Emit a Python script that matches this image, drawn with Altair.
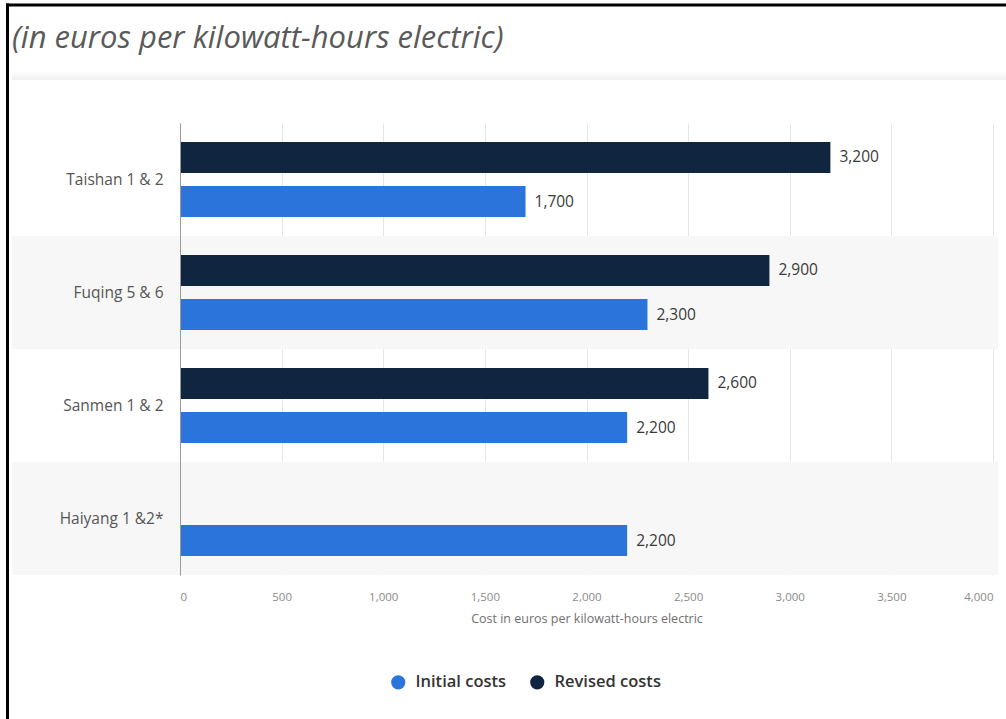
import altair as alt
import pandas as pd

plants = ["Taishan 1 & 2", "Fuqing 5 & 6", "Sanmen 1 & 2", "Haiyang 1 &2*"]
initial_costs = [1700, 2300, 2200, 2200]
revised_costs = [3200, 2900, 2600, None]
series = ["Initial costs", "Revised costs"]
colors = ["#2a74db", "#0f2540"]
x_ticks = [0, 500, 1000, 1500, 2000, 2500, 3000, 3500, 4000]
striped = ["Fuqing 5 & 6", "Haiyang 1 &2*"]
title_text = "(in euros per kilowatt-hours electric)"
x_title = "Cost in euros per kilowatt-hours electric"

rows = []
for p, i, r in zip(plants, initial_costs, revised_costs):
    rows.append({"plant": p, "series": "Initial costs", "value": i})
    if r is not None:
        rows.append({"plant": p, "series": "Revised costs", "value": r})
df = pd.DataFrame(rows)

FONT = "Open Sans"

y_scale = alt.Scale(domain=plants, paddingInner=0, paddingOuter=0)
yoff_scale = alt.Scale(domain=["Revised costs", "Initial costs"], paddingInner=0.295, paddingOuter=0.43)
x_scale = alt.Scale(domain=[0, 4000], nice=False)

y_axis = alt.Axis(labelFontSize=15.5, labelColor="#555555", labelFont=FONT,
                  labelPadding=17, ticks=False, domain=True, domainColor="#9a9a9a",
                  grid=False)
x_axis = alt.Axis(values=x_ticks, format=",d", labelFontSize=11.5, labelColor="#8a8a8a",
                  labelFont=FONT, labelPadding=16, ticks=False, domain=False,
                  grid=True, gridColor="#e6e6e6", titleFontSize=12.5,
                  titleColor="#707070", titleFont=FONT, titleFontWeight="normal",
                  titlePadding=10)

y_enc = alt.Y("plant:N", scale=y_scale, title=None, axis=y_axis)
x_enc = alt.X("value:Q", scale=x_scale, title=x_title, axis=x_axis)

stripes = alt.Chart(pd.DataFrame({"plant": striped})).mark_rect(color="#f7f7f7").encode(
    y=y_enc,
    x=alt.value(-168),
    x2=alt.value(818),
)

bars = alt.Chart(df).mark_bar().encode(
    y=y_enc,
    yOffset=alt.YOffset("series:N", scale=yoff_scale),
    x=x_enc,
    color=alt.Color("series:N", scale=alt.Scale(domain=series, range=colors),
                    legend=alt.Legend(title=None, orient="none", legendX=210, legendY=551,
                                      direction="horizontal", symbolType="circle",
                                      symbolSize=200, symbolStrokeWidth=0,
                                      labelFontSize=16.5, labelFont=FONT, labelFontWeight=600,
                                      labelColor="#333333", columnPadding=22, padding=0,
                                      labelOffset=9)),
)

labels = alt.Chart(df).mark_text(align="left", baseline="middle", dx=9, fontSize=15.5,
                                 font=FONT, color="#3a3a3a").encode(
    y=y_enc,
    yOffset=alt.YOffset("series:N", scale=yoff_scale),
    x=x_enc,
    text=alt.Text("value:Q", format=","),
)

title = alt.Chart(pd.DataFrame({"t": [title_text]})).mark_text(
    align="left", baseline="alphabetic", fontSize=31, font=FONT, fontStyle="italic",
    color="#5a5a5a").encode(
    text="t:N", x=alt.value(-168), y=alt.value(-75))

shadow = alt.Chart(pd.DataFrame({"a": [0]})).mark_rect(
    color=alt.Gradient(gradient="linear", x1=0, x2=0, y1=0, y2=1,
                       stops=[alt.GradientStop(color="#ffffff", offset=0),
                              alt.GradientStop(color="#f0f0f0", offset=1)])).encode(
    x=alt.value(-168), x2=alt.value(826), y=alt.value(-52), y2=alt.value(-43))

frame_top = alt.Chart(pd.DataFrame({"a": [0]})).mark_rule(color="#000000", strokeWidth=3).encode(
    x=alt.value(-174), x2=alt.value(826), y=alt.value(-118))
frame_left = alt.Chart(pd.DataFrame({"a": [0]})).mark_rule(color="#000000", strokeWidth=3).encode(
    x=alt.value(-172.5), y=alt.value(-119.5), y2=alt.value(596))

chart = alt.layer(stripes, shadow, bars, labels, title, frame_top, frame_left).properties(
    width=813, height=452,
    autosize=alt.AutoSizeParams(type="none"),
    padding={"left": 180, "top": 123, "right": 13, "bottom": 144},
).configure(background="#ffffff", view=alt.ViewConfig(stroke=None))

chart.save("out.html", embed_options={"renderer": "svg", "actions": False})
